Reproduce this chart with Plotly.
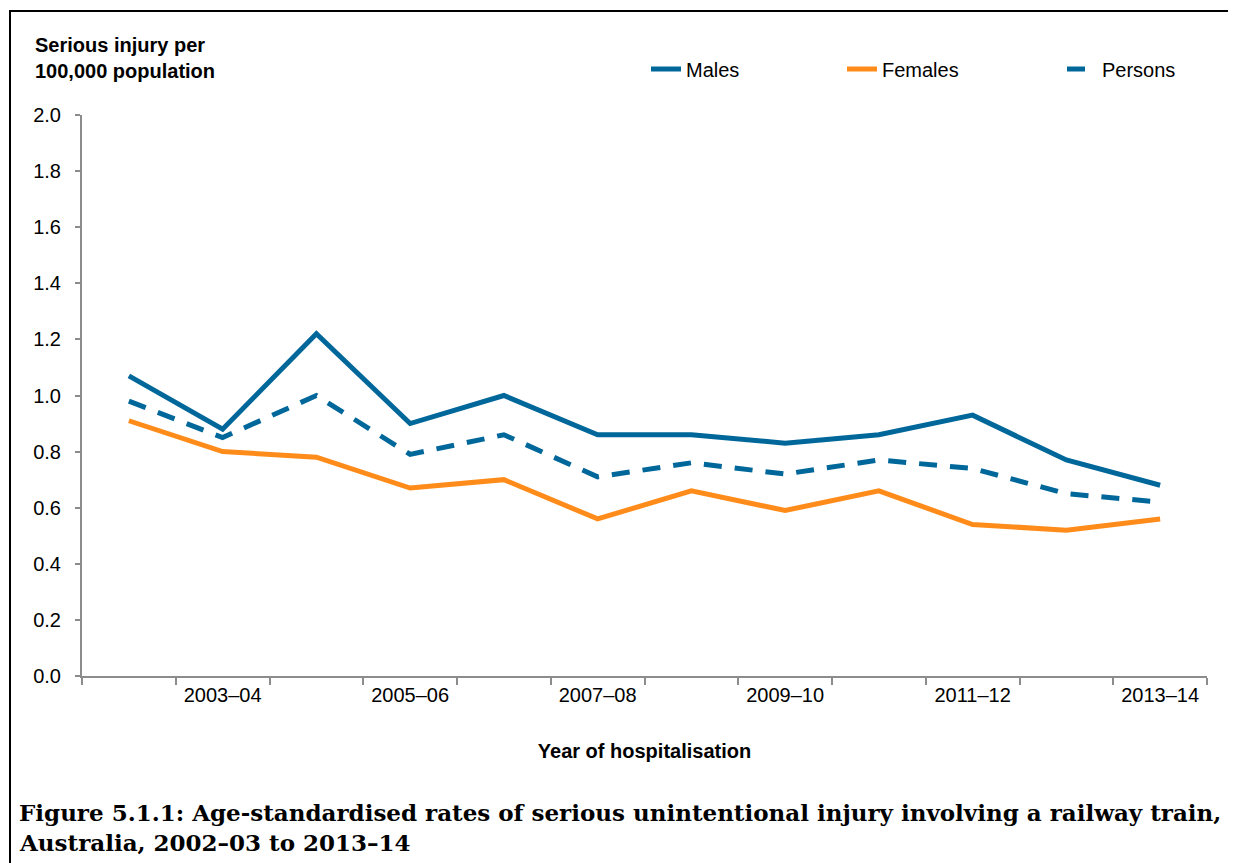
import plotly.graph_objects as go

categories = ["2002–03", "2003–04", "2004–05", "2005–06", "2006–07", "2007–08",
              "2008–09", "2009–10", "2010–11", "2011–12", "2012–13", "2013–14"]
males = [1.07, 0.88, 1.22, 0.90, 1.00, 0.86, 0.86, 0.83, 0.86, 0.93, 0.77, 0.68]
females = [0.91, 0.80, 0.78, 0.67, 0.70, 0.56, 0.66, 0.59, 0.66, 0.54, 0.52, 0.56]
persons = [0.98, 0.85, 1.00, 0.79, 0.86, 0.71, 0.76, 0.72, 0.77, 0.74, 0.65, 0.62]
y_ticks = [0.0, 0.2, 0.4, 0.6, 0.8, 1.0, 1.2, 1.4, 1.6, 1.8, 2.0]

BLUE = "#00679A"
ORANGE = "#FF8C1A"
AXIS = "#8C8C8C"
FONT = "Liberation Sans, Arial, sans-serif"
SERIF = "DejaVu Serif, serif"

OFF = 8  # page body margin
W, H = 1236 - OFF, 863 - OFF
# plot area in page pixels
PL, PR, PT, PB = 82, 1207, 115, 676
L, R, T, B = PL - OFF, PR - OFF, PT - OFF, PB - OFF


def px_x(p):
    return (p - PL) / (PR - PL)


def px_y(p):
    return (PB - p) / (PB - PT)


xs = list(range(len(categories)))

fig = go.Figure()
fig.add_trace(go.Scatter(x=xs, y=males, name="Males", mode="lines",
                         line=dict(color=BLUE, width=5), legend="legend"))
fig.add_trace(go.Scatter(x=xs, y=females, name="Females", mode="lines",
                         line=dict(color=ORANGE, width=5), legend="legend2"))
fig.add_trace(go.Scatter(x=xs, y=persons, name="Persons", mode="lines",
                         line=dict(color=BLUE, width=5, dash="18px,13px"),
                         legend="legend3"))

leg_common = dict(orientation="h", yanchor="middle", xanchor="left",
                  y=px_y(69), font=dict(family=FONT, size=20, color="#000"),
                  bgcolor="rgba(0,0,0,0)")

tick_idx = list(range(1, len(categories), 2))

fig.update_layout(
    width=W, height=H,
    margin=dict(l=L, r=W - R, t=T, b=H - B, pad=0),
    paper_bgcolor="white", plot_bgcolor="white",
    font=dict(family=FONT, size=20, color="#000"),
    showlegend=True,
    legend=dict(x=px_x(646), **leg_common),
    legend2=dict(x=px_x(842), **leg_common),
    legend3=dict(x=px_x(1062), **leg_common),
    xaxis=dict(
        range=[-0.5, len(categories) - 0.5],
        tickmode="array",
        tickvals=tick_idx,
        ticktext=[categories[i] for i in tick_idx],
        ticks="",
        showline=True, linecolor=AXIS, linewidth=2,
        showgrid=False, zeroline=False,
        tickfont=dict(family=FONT, size=20, color="#000"),
        minor=dict(tickmode="array",
                   tickvals=[i - 0.5 for i in range(len(categories) + 1)],
                   ticks="outside", ticklen=7, tickwidth=1.5, tickcolor=AXIS,
                   showgrid=False),
        title=dict(text="<b>Year of hospitalisation</b>",
                   font=dict(family=FONT, size=20, color="#000"), standoff=39),
        fixedrange=True,
    ),
    yaxis=dict(
        range=[0, 2.0],
        tickmode="array",
        tickvals=y_ticks,
        ticktext=[f"{v:.1f}" for v in y_ticks],
        ticks="outside", ticklen=5, tickwidth=1.5, tickcolor=AXIS,
        ticklabelstandoff=10,
        showline=True, linecolor=AXIS, linewidth=2,
        showgrid=False, zeroline=False,
        tickfont=dict(family=FONT, size=20, color="#000"),
        fixedrange=True,
    ),
    annotations=[
        dict(text="<b>Serious injury per<br>100,000 population</b>",
             xref="paper", yref="paper", x=px_x(33), y=px_y(58),
             xanchor="left", yanchor="middle", align="left", showarrow=False,
             font=dict(family=FONT, size=20, color="#000")),
        dict(text="<b>Figure 5.1.1: Age-standardised rates of serious unintentional injury involving a railway train,</b>",
             xref="paper", yref="paper", x=px_x(17), y=px_y(812),
             xanchor="left", yanchor="middle", align="left", showarrow=False,
             font=dict(family=SERIF, size=23, color="#000")),
        dict(text="<b>Australia, 2002–03 to 2013–14</b>",
             xref="paper", yref="paper", x=px_x(17), y=px_y(842),
             xanchor="left", yanchor="middle", align="left", showarrow=False,
             font=dict(family=SERIF, size=23, color="#000")),
    ],
    shapes=[
        dict(type="rect", xref="paper", yref="paper",
             x0=px_x(10), x1=px_x(1234), y0=px_y(880), y1=px_y(11),
             line=dict(color="#000", width=2), fillcolor="rgba(0,0,0,0)", layer="below"),
    ],
)

fig.write_html("out.html")
